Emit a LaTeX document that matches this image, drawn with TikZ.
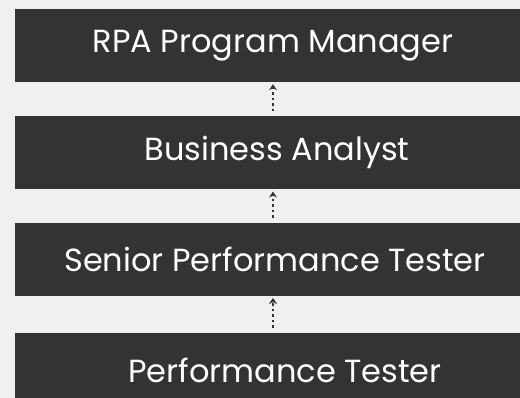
\documentclass[tikz,border=0pt]{standalone}
\usepackage{fontspec}
\setmainfont{Poppins}
\usetikzlibrary{arrows.meta,positioning}
\definecolor{bgGrey}{HTML}{F0F0F0}
\definecolor{boxDark}{HTML}{333333}
\tikzset{
  rolebox/.style={fill=boxDark, minimum width=516pt, minimum height=73pt, inner sep=0pt},
  roletext/.style={text=white, inner sep=0pt, font=\fontsize{32}{36}\selectfont},
  promo/.style={draw=boxDark, line width=2.5pt, dash pattern=on 2.5pt off 3pt,
    -{Stealth[length=6pt,width=8pt,inset=2pt]}}
}

\begin{document}
\begin{tikzpicture}[x=1pt,y=1pt]
    \useasboundingbox[fill=bgGrey] (0,0) rectangle (520,398);
    \node[rolebox] (manager) at (273,352.5) {};
    \node[rolebox, below=34pt of manager] (analyst) {};
    \node[rolebox, below=33pt of analyst] (senior) {};
    \node[rolebox, below=37pt of senior, minimum height=74pt] (tester) {};
    % titles, a little off centre as in the chart
    \node[roletext] (managerT) at (manager.center) {RPA Program Manager};
    \node[roletext] (analystT) at ([xshift=4pt]analyst.center) {Business Analyst};
    \node[roletext] (seniorT) at ([xshift=2pt]senior.center) {Senior Performance Tester};
    \node[roletext] (testerT) at ([xshift=12pt]tester.center) {Performance Tester};
    % dotted promotion arrows between the boxes
    \draw[promo] ([yshift=5pt]analyst.north) -- ([yshift=-2pt]manager.south);
    \draw[promo] ([yshift=5pt]senior.north) -- ([yshift=-2pt]analyst.south);
    \draw[promo] ([yshift=5pt]tester.north) -- ([yshift=-2pt]senior.south);
  \end{tikzpicture}
\end{document}
